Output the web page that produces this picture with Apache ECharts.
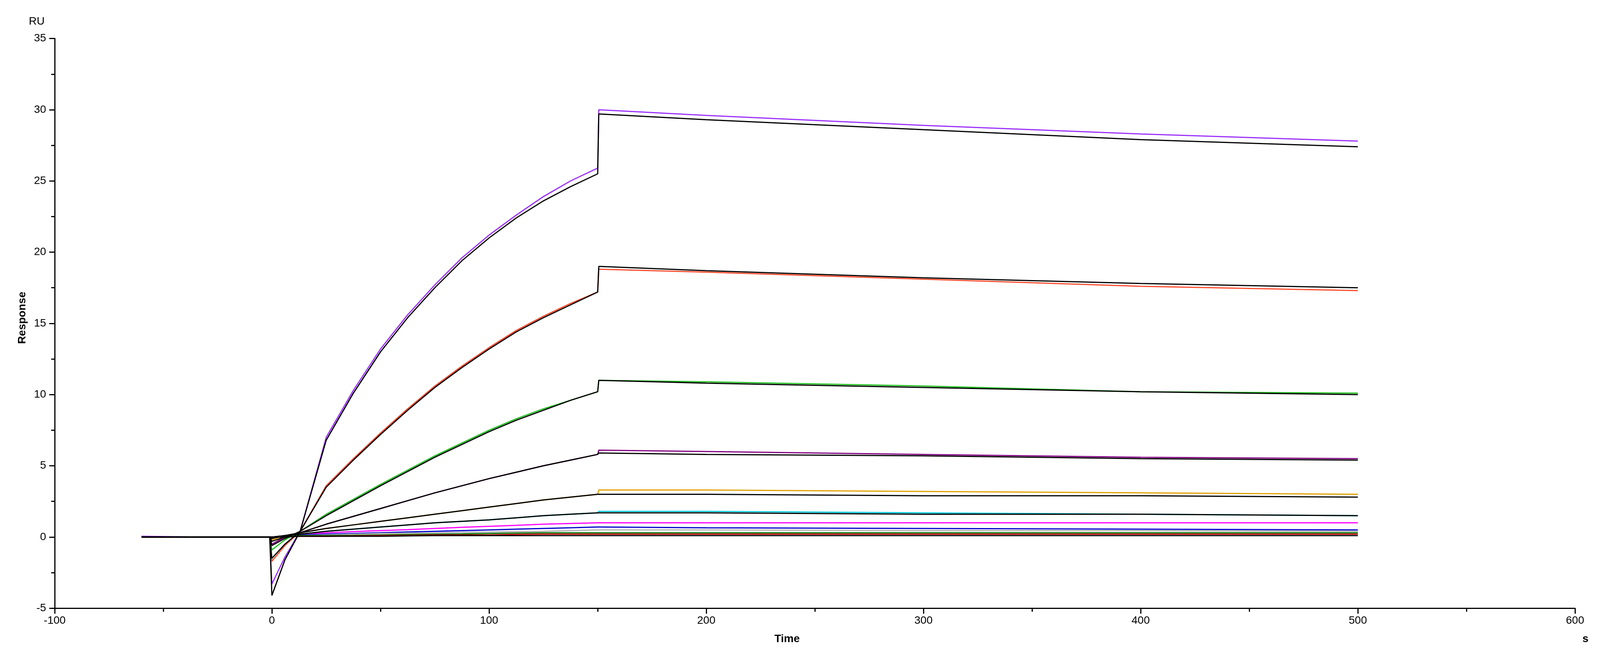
<!DOCTYPE html>
<html><head><meta charset="utf-8">
<script src="https://cdn.jsdelivr.net/npm/echarts@6/dist/echarts.min.js"></script>
<style>html,body{margin:0;padding:0;background:#fff;overflow:hidden}#c{width:100vw;height:100vh}</style>
</head><body><div id="c"></div>
<script>
// time points (s)
const times = [-60, -30, -1, 0, 6, 13, 25, 37.5, 50, 62.5, 75, 87.5, 100, 112.5, 125, 137.5, 150, 150.5, 200, 300, 400, 500];
// measured curves (RU)
const purpleBig = [0.05, 0.0, 0.0, -3.3, -1.4, 0.4, 7.0, 10.3, 13.2, 15.6, 17.7, 19.6, 21.2, 22.6, 23.9, 25.0, 25.9, 30.0, 29.6, 28.9, 28.3, 27.8];
const redBig    = [0.0, 0.0, 0.0, -1.7, -0.6, 0.4, 3.6, 5.5, 7.3, 9.0, 10.6, 12.0, 13.3, 14.5, 15.5, 16.4, 17.2, 18.8, 18.6, 18.1, 17.6, 17.3];
const greenMid  = [0.0, 0.0, 0.0, -0.9, -0.2, 0.4, 1.6, 2.65, 3.7, 4.7, 5.7, 6.6, 7.5, 8.3, 9.0, 9.6, 10.2, 11.0, 10.9, 10.6, 10.2, 10.1];
const purpleMid = [0.0, 0.0, 0.0, -0.5, 0.0, 0.3, 0.9, 1.45, 2.0, 2.55, 3.1, 3.6, 4.1, 4.55, 5.0, 5.4, 5.8, 6.1, 6.0, 5.8, 5.6, 5.5];
const orange    = [0.0, 0.0, 0.0, -0.2, 0.1, 0.3, 0.6, 0.85, 1.1, 1.35, 1.6, 1.85, 2.1, 2.35, 2.6, 2.8, 3.0, 3.3, 3.3, 3.2, 3.1, 3.0];
const cyan      = [0.0, 0.0, 0.0, -0.1, 0.1, 0.2, 0.4, 0.55, 0.7, 0.85, 1.0, 1.1, 1.2, 1.35, 1.5, 1.6, 1.7, 1.8, 1.8, 1.7, 1.6, 1.5];
const magenta   = [0.0, 0.0, 0.0, -0.1, 0.1, 0.2, 0.3, 0.38, 0.45, 0.52, 0.6, 0.68, 0.75, 0.82, 0.9, 0.95, 1.0, 1.0, 1.0, 1.0, 1.0, 1.0];
const blue      = [0.0, 0.0, 0.0, 0.0, 0.1, 0.15, 0.2, 0.25, 0.3, 0.35, 0.4, 0.45, 0.5, 0.55, 0.6, 0.65, 0.7, 0.7, 0.65, 0.6, 0.55, 0.5];
const grey      = [0.0, 0.0, 0.0, 0.0, 0.05, 0.1, 0.15, 0.2, 0.25, 0.28, 0.3, 0.33, 0.35, 0.38, 0.4, 0.45, 0.5, 0.5, 0.5, 0.45, 0.45, 0.4];
const darkGreen = [0.0, 0.0, 0.0, 0.0, 0.05, 0.1, 0.1, 0.12, 0.15, 0.18, 0.2, 0.22, 0.25, 0.28, 0.3, 0.3, 0.3, 0.3, 0.3, 0.3, 0.3, 0.3];
const darkRed   = [0.0, 0.0, 0.0, 0.0, 0.0, 0.05, 0.05, 0.08, 0.1, 0.12, 0.15, 0.15, 0.15, 0.18, 0.2, 0.2, 0.2, 0.2, 0.2, 0.2, 0.2, 0.2];
// fitted curves (black)
const fitPurple    = [0.0, 0.0, 0.0, -4.1, -1.6, 0.4, 6.8, 10.1, 13.0, 15.4, 17.5, 19.4, 21.0, 22.4, 23.6, 24.6, 25.5, 29.7, 29.3, 28.6, 27.9, 27.4];
const fitRed       = [0.0, 0.0, 0.0, -1.5, -0.5, 0.4, 3.5, 5.4, 7.2, 8.9, 10.5, 11.9, 13.2, 14.4, 15.4, 16.3, 17.2, 19.0, 18.7, 18.2, 17.8, 17.5];
const fitGreen     = [0.0, 0.0, 0.0, -0.6, -0.1, 0.4, 1.5, 2.55, 3.6, 4.6, 5.6, 6.5, 7.4, 8.2, 8.9, 9.6, 10.2, 11.0, 10.8, 10.5, 10.2, 10.0];
const fitPurpleMid = [0.0, 0.0, 0.0, -0.3, 0.0, 0.3, 0.9, 1.45, 2.0, 2.55, 3.1, 3.6, 4.1, 4.55, 5.0, 5.4, 5.8, 5.9, 5.8, 5.7, 5.5, 5.4];
const fitOrange    = [0.0, 0.0, 0.0, -0.1, 0.1, 0.3, 0.6, 0.85, 1.1, 1.35, 1.6, 1.85, 2.1, 2.35, 2.6, 2.8, 3.0, 3.0, 3.0, 2.9, 2.9, 2.8];
const fitCyan      = [0.0, 0.0, 0.0, 0.0, 0.1, 0.2, 0.4, 0.55, 0.7, 0.85, 1.0, 1.1, 1.2, 1.35, 1.5, 1.6, 1.7, 1.7, 1.7, 1.6, 1.6, 1.5];
const fitLow       = [0.0, 0.0, 0.0, 0.0, 0.0, 0.05, 0.05, 0.05, 0.05, 0.08, 0.1, 0.1, 0.1, 0.1, 0.1, 0.1, 0.1, 0.1, 0.1, 0.1, 0.1, 0.1];

const measured = [
  [purpleBig, '#9b30ff'], [redBig, '#ff4a2a'], [greenMid, '#1fbf1f'], [purpleMid, '#800080'],
  [orange, '#e0a000'], [cyan, '#00c8d8'], [magenta, '#ff00ff'], [blue, '#0000cc'],
  [grey, '#b0b0b0'], [darkGreen, '#007000'], [darkRed, '#c00000']
];
const fits = [fitPurple, fitRed, fitGreen, fitPurpleMid, fitOrange, fitCyan, fitLow];
const mk = (vals) => times.map((t, i) => [t, vals[i]]);
const series = [];
measured.forEach(([v, c]) => series.push({type:'line', data: mk(v), showSymbol:false, smooth:false,
  lineStyle:{color:c, width:3}, animation:false}));
fits.forEach(v => series.push({type:'line', data: mk(v), showSymbol:false, smooth:false,
  lineStyle:{color:'#000', width:3}, animation:false}));

const font = 'Arial, "Liberation Sans", sans-serif';
const chart = echarts.init(document.getElementById('c'));
const W = chart.getWidth(), H = chart.getHeight();
chart.setOption({
  backgroundColor:'#fff',
  grid:{left:'3.42%', right:'1.56%', top:'5.8%', bottom:'8.4%'},
  xAxis:{type:'value', min:-100, max:600, interval:100,
    axisLine:{onZero:false, lineStyle:{color:'#000', width:3}}, axisTick:{length:14, lineStyle:{width:3}},
    minorTick:{show:true, splitNumber:2, length:9, lineStyle:{color:'#000', width:3}},
    splitLine:{show:false}, axisLabel:{fontSize:28, color:'#000', margin:18, fontFamily:font, showMaxLabel:true, showMinLabel:true}},
  yAxis:{type:'value', min:-5, max:35, interval:5,
    axisLine:{show:true, onZero:false, lineStyle:{color:'#000', width:3}}, axisTick:{show:true, length:14, lineStyle:{width:3}},
    minorTick:{show:true, splitNumber:2, length:9, lineStyle:{color:'#000', width:3}},
    splitLine:{show:false}, axisLabel:{fontSize:28, color:'#000', margin:22, fontFamily:font}},
  graphic:[
    {type:'text', x:W*0.018, y:H*0.024, style:{text:'RU', font:'28px '+font, fill:'#000'}},
    {type:'text', x:W*0.484, y:H*0.954, style:{text:'Time', font:'bold 28px '+font, fill:'#000'}},
    {type:'text', x:W*0.989, y:H*0.954, style:{text:'s', font:'bold 28px '+font, fill:'#000'}},
    {type:'text', x:W*0.0105, y:H*0.518, rotation:Math.PI/2, style:{text:'Response', font:'bold 28px '+font, fill:'#000'}}
  ],
  series
});
</script></body></html>
